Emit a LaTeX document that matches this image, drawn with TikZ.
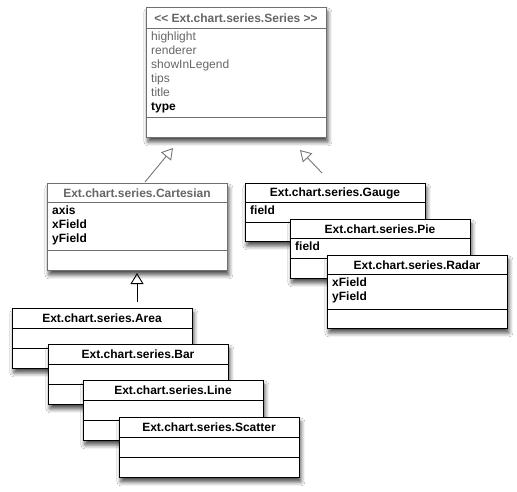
\documentclass[tikz,border=0pt]{standalone}
\usepackage{fontspec}
\setmainfont{Liberation Sans}
\usetikzlibrary{arrows.meta,shadows.blur}
\definecolor{edgegray}{HTML}{707070}
\definecolor{txtgray}{HTML}{666666}
\definecolor{arrgray}{HTML}{777777}

\tikzset{
  classbox/.style={draw, fill=white, line width=0.9pt, inner sep=0pt, anchor=north west,
    minimum width=180pt,
    blur shadow={shadow xshift=1.5pt, shadow yshift=-4.5pt, shadow blur radius=4pt, shadow opacity=70}},
  titletext/.style={inner sep=0pt, font=\fontsize{12}{14}\selectfont\bfseries},
  attrtext/.style={inner sep=0pt, anchor=north west, align=left, font=\fontsize{12}{14}\selectfont\bfseries},
  sepline/.style={line width=0.9pt},
  gen/.style={line width=0.9pt, -{Triangle[open, length=11pt, width=13pt, line width=0.9pt]}},
}

% name, left, top, sep1, sep2, bottom, title, attrs, colour
\newcommand{\umlclass}[9]{%
  \node[classbox, draw=#9, minimum height={(#6-#3)*1pt}] (#1) at (#2,#3) {};
  \draw[sepline, draw=#9] (#2,#4) -- ({#2+180},#4);
  \draw[sepline, draw=#9] (#2,#5) -- ({#2+180},#5);
  \node[titletext] (#1-title) at ({#2+90},{(#3+#4)/2+0.5}) {#7};
  \node[attrtext] (#1-attrs) at ({#2+5},{#4+4}) {#8};
}

\begin{document}
\begin{tikzpicture}[x=1pt,y=-1pt]
\useasboundingbox[fill=white] (0,0) rectangle (517,491);

\umlclass{series}{146}{7}{28}{117}{137}{\textcolor{txtgray}{{<}{<} Ext.chart.series.Series {>}{>}}}%
  {\mdseries\textcolor{txtgray}{highlight}\\\mdseries\textcolor{txtgray}{renderer}\\\mdseries\textcolor{txtgray}{showInLegend}\\\mdseries\textcolor{txtgray}{tips}\\\mdseries\textcolor{txtgray}{title}\\type}{edgegray}

\umlclass{cartesian}{47}{183}{202}{250}{270}{\textcolor{txtgray}{Ext.chart.series.Cartesian}}%
  {axis\\xField\\yField}{edgegray}

\umlclass{gauge}{245}{183}{202}{222}{241}{Ext.chart.series.Gauge}{field}{black}
\umlclass{pie}{290}{219}{238}{258}{278}{Ext.chart.series.Pie}{field}{black}
\umlclass{radar}{327}{255}{274}{309}{328}{Ext.chart.series.Radar}{xField\\yField}{black}

\umlclass{area}{12}{308}{328}{348}{368}{Ext.chart.series.Area}{}{black}
\umlclass{bar}{48}{344}{364}{384}{404}{Ext.chart.series.Bar}{}{black}
\umlclass{line}{83}{380}{400}{420}{440}{Ext.chart.series.Line}{}{black}
\umlclass{scatter}{119}{417}{437}{457}{477}{Ext.chart.series.Scatter}{}{black}

% connector end points
\coordinate (cartEnd) at (145,182);
\coordinate (cartTip) at (173,148);
\coordinate (gaugeEnd) at (322,173);
\coordinate (gaugeTip) at (300,150);
\coordinate (areaEnd) at (137,302);
\coordinate (areaTip) at (137,273);

\draw[gen, draw=arrgray] (cartEnd) -- (cartTip);
\draw[gen, draw=arrgray] (gaugeEnd) -- (gaugeTip);
\draw[gen, draw=black] (areaEnd) -- (areaTip);
\end{tikzpicture}
\end{document}
